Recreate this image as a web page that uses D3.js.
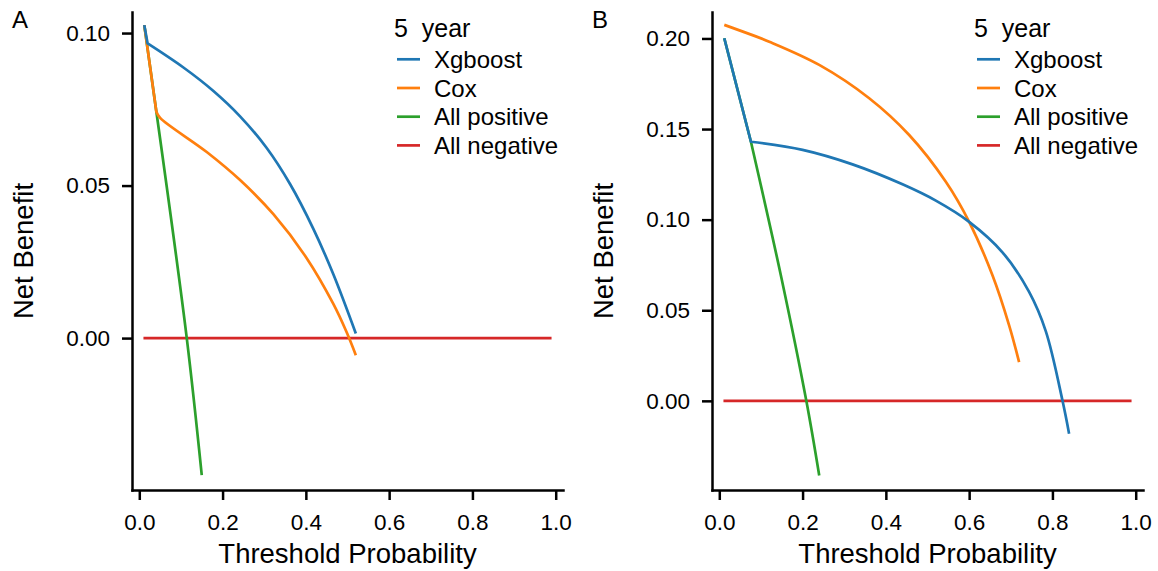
<!DOCTYPE html>
<html>
<head>
<meta charset="utf-8">
<script src="https://cdn.jsdelivr.net/npm/d3@7"></script>
<style>
    html, body { margin: 0; padding: 0; background: #fff; }
    svg { display: block; font-family: "Liberation Sans", Arial, sans-serif; }
</style>
</head>
<body>
<div id="chart"></div>
<script>
// decision curves, 5 year: [threshold, net benefit]
var xgbA = [[0.012, 0.1026], [0.020, 0.0966], [0.106, 0.0887], [0.178, 0.0810], [0.242, 0.0727],
    [0.306, 0.0623], [0.362, 0.0505], [0.418, 0.0358], [0.466, 0.0209], [0.520, 0.0015]];
var coxA = [[0.012, 0.1026], [0.041, 0.0742], [0.050, 0.0722], [0.162, 0.0610], [0.242, 0.0518],
    [0.322, 0.0406], [0.402, 0.0262], [0.466, 0.0112], [0.498, 0.0019], [0.520, -0.0056]];
var allPosA = [[0.012, 0.1026], [0.041, 0.0742], [0.114, 0.0], [0.150, -0.0449]];
var allNegA = [[0.01, 0], [0.99, 0]];

var xgbB = [[0.012, 0.2001], [0.076, 0.1430], [0.200, 0.1385], [0.320, 0.1305], [0.440, 0.1195],
    [0.520, 0.1105], [0.600, 0.0988], [0.680, 0.0820], [0.744, 0.0601], [0.784, 0.0385],
    [0.824, 0.0003], [0.840, -0.0181]];
var coxB = [[0.012, 0.2075], [0.060, 0.2035], [0.120, 0.1982], [0.240, 0.1854], [0.360, 0.1670],
    [0.456, 0.1467], [0.544, 0.1209], [0.600, 0.0988], [0.656, 0.0693], [0.696, 0.0417],
    [0.720, 0.0214]];
var allPosB = [[0.012, 0.2001], [0.076, 0.1430], [0.150, 0.0670], [0.209, 0.0], [0.240, -0.0412]];
var allNegB = [[0.01, 0], [0.99, 0]];

var seriesNames = ["Xgboost", "Cox", "All positive", "All negative"];
var seriesColors = ["#1f77b4", "#ff7f0e", "#2ca02c", "#d62728"];
var legendTitle = "5  year";

var xTicks = [0, 0.2, 0.4, 0.6, 0.8, 1.0];
var yTicksA = [0, 0.05, 0.10];
var yTicksB = [0, 0.05, 0.10, 0.15, 0.20];
var xDomain = [-0.0175, 1.0175];
var yDomainA = [-0.0498, 0.1069];
var yDomainB = [-0.0492, 0.2146];

var width = 1158, height = 571;
var font = "Liberation Sans, Arial, sans-serif";

var svg = d3.select("#chart").append("svg")
    .attr("width", width)
    .attr("height", height)
    .attr("viewBox", [0, 0, width, height]);

svg.append("rect").attr("width", width).attr("height", height).attr("fill", "#fff");

function drawPanel(left, tag, series, yTicks, yDomain) {
    var g = svg.append("g").attr("transform", "translate(" + left + ",0)");
    var x = d3.scaleLinear().domain(xDomain).range([0, 431]);
    var y = d3.scaleLinear().domain(yDomain).range([490, 12]);

    var xAxis = g.append("g")
        .attr("transform", "translate(0,490)")
        .call(d3.axisBottom(x).tickValues(xTicks).tickFormat(d3.format(".1f"))
            .tickSize(10).tickSizeOuter(0).tickPadding(14));
    var yAxis = g.append("g")
        .call(d3.axisLeft(y).tickValues(yTicks).tickFormat(d3.format(".2f"))
            .tickSize(10).tickSizeOuter(0).tickPadding(12));

    [xAxis, yAxis].forEach(function (a) {
        a.select(".domain").attr("stroke", "#000").attr("stroke-width", 2.5).attr("stroke-linecap", "square");
        a.selectAll(".tick line").attr("stroke", "#000").attr("stroke-width", 2.5);
        a.selectAll(".tick text").attr("fill", "#000").attr("font-size", 22.5).attr("font-family", font);
    });

    g.append("text")
        .attr("x", x(0.5)).attr("y", 563)
        .attr("text-anchor", "middle").attr("font-size", 27.5)
        .text("Threshold Probability");

    g.append("text")
        .attr("transform", "translate(-99,251) rotate(-90)")
        .attr("text-anchor", "middle").attr("font-size", 27.5)
        .text("Net Benefit");

    g.append("text")
        .attr("x", -120).attr("y", 28.3)
        .attr("font-size", 24)
        .text(tag);

    // first segment straight (treat-all part), rest smooth
    var straight = d3.line().x(d => x(d[0])).y(d => y(d[1]));
    var smooth = d3.line().x(d => x(d[0])).y(d => y(d[1])).curve(d3.curveCatmullRom.alpha(0.5));

    // draw order: All negative under, Xgboost on top
    for (var i = series.length - 1; i >= 0; i--) {
        var pts = series[i];
        var d = straight(pts.slice(0, 2));
        if (pts.length > 2) {
            d += smooth(pts.slice(1)).replace(/^M[^LC]*/, "");
        }
        g.append("path")
            .attr("d", d)
            .attr("fill", "none")
            .attr("stroke", seriesColors[i])
            .attr("stroke-width", 2.7)
            .attr("stroke-linejoin", "round");
    }

    var legend = g.append("g");
    legend.append("text")
        .attr("x", 262).attr("y", 37)
        .attr("font-size", 25)
        .attr("xml:space", "preserve")
        .style("white-space", "pre")
        .text(legendTitle);

    var rows = legend.selectAll("g.row")
        .data(seriesNames)
        .join("g")
        .attr("class", "row")
        .attr("transform", (d, j) => "translate(0," + (59.3 + j * 28.7) + ")");
    rows.append("line")
        .attr("x1", 265).attr("x2", 288)
        .attr("stroke", (d, j) => seriesColors[j])
        .attr("stroke-width", 2.7);
    rows.append("text")
        .attr("x", 302).attr("y", 8.5)
        .attr("font-size", 24)
        .text(d => d);
}

drawPanel(132, "A", [xgbA, coxA, allPosA, allNegA], yTicksA, yDomainA);
drawPanel(712, "B", [xgbB, coxB, allPosB, allNegB], yTicksB, yDomainB);
</script>
</body>
</html>
